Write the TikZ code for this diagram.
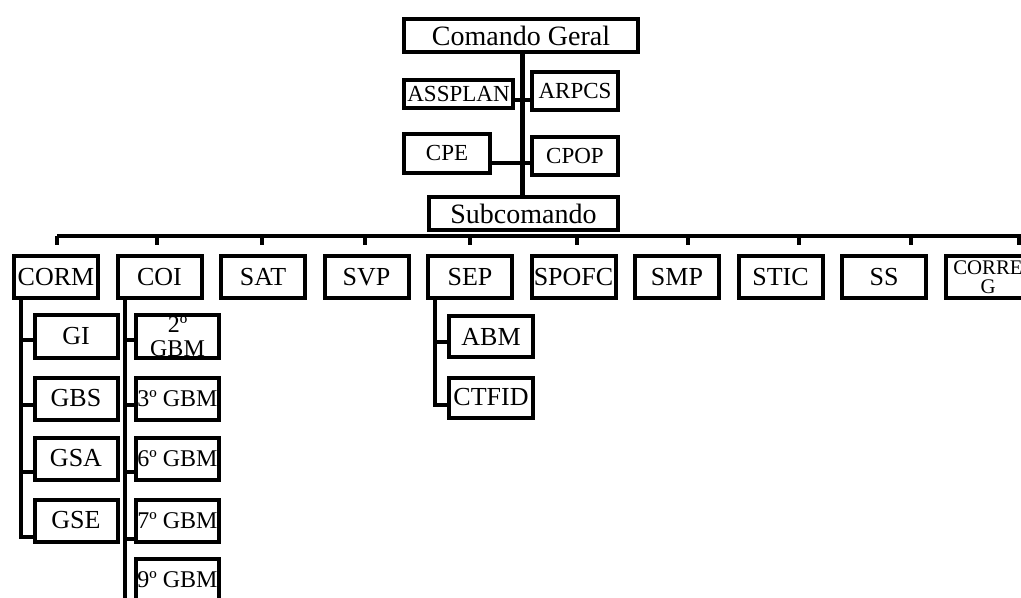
\documentclass[tikz,border=0pt]{standalone}
\usepackage{fontspec}
\setmainfont{Liberation Serif}
\usepackage{tikz}
\tikzset{
	box/.style={draw, line width=2pt, fill=white, inner sep=0pt, align=center, font=\fontsize{13}{13}\selectfont},
	unit/.style={box, minimum width=42pt, minimum height=21pt},
	sub/.style={box, minimum width=41.5pt, minimum height=21pt},
	wire/.style={line width=2pt},
}

\begin{document}
\begin{tikzpicture}[x=0.5pt, y=-0.5pt]
			%%%%% START %%%%%
			\useasboundingbox (0, 0) rectangle (1021, 598);
			
			\node[box, minimum width=117pt, minimum height=16.5pt, font=\fontsize{14}{14}\selectfont] (cg) at (521, 35.5) {Comando Geral};
			\node[box, minimum width=54.5pt, minimum height=14pt, font=\fontsize{11.5}{11.5}\selectfont] (assplan) at (458.5, 94) {ASSPLAN};
			\node[box, minimum width=43pt, minimum height=19pt, font=\fontsize{11.5}{11.5}\selectfont] (arpcs) at (575, 91) {ARPCS};
			\node[box, minimum width=43pt, minimum height=19.5pt, font=\fontsize{11.5}{11.5}\selectfont] (cpe) at (447, 153.5) {CPE};
			\node[box, minimum width=43pt, minimum height=19pt, font=\fontsize{11.5}{11.5}\selectfont] (cpop) at (575, 156) {CPOP};
			\node[box, minimum width=94.5pt, minimum height=16.5pt, font=\fontsize{14}{14}\selectfont] (subcmd) at (523.5, 213.5) {Subcomando};
			
			\coordinate (trunk) at (522.5, 0);
			\draw[line width=2.5pt] (cg.south -| trunk) -- (subcmd.north -| trunk);
			\draw[wire] ([yshift=-3pt]assplan.east) -- ([yshift=-3pt]assplan.east -| arpcs.west);
			\draw[wire] ([yshift=-4.75pt]cpe.east) -- ([yshift=-4.75pt]cpe.east -| cpop.west);
			
			\node[unit] (corm) at (56, 277.5) {CORM};
			\node[unit] (coi) at (159.5, 277.5) {COI};
			\node[unit] (sat) at (263, 277.5) {SAT};
			\node[unit] (svp) at (366.5, 277.5) {SVP};
			\node[unit] (sep) at (470, 277.5) {SEP};
			\node[unit] (spofc) at (573.5, 277.5) {SPOFC};
			\node[unit] (smp) at (677, 277.5) {SMP};
			\node[unit] (stic) at (780.5, 277.5) {STIC};
			\node[unit] (ss) at (884, 277.5) {SS};
			\node[unit, font=\fontsize{10.4}{9.5}\selectfont] (correg) at (988, 277.5) {CORRE\\G};
			
			\coordinate (barL) at (57, 236);
			\coordinate (barR) at (1030, 236);
			\draw[wire] (barL) -- (barR);
			\draw[wire] (barL) -- ++(0, 9);
			\draw[wire] (157, 236) -- ++(0, 9);
			\draw[wire] (262, 236) -- ++(0, 9);
			\draw[wire] (365, 236) -- ++(0, 9);
			\draw[wire] (470, 236) -- ++(0, 9);
			\draw[wire] (577, 236) -- ++(0, 9);
			\draw[wire] (688, 236) -- ++(0, 9);
			\draw[wire] (799, 236) -- ++(0, 9);
			\draw[wire] (911, 236) -- ++(0, 9);
			\draw[wire] (1019, 236) -- ++(0, 9);
			
			% CORM
			\node[sub] (gi) at (76, 336.5) {GI};
			\node[sub] (gbs) at (76, 398.5) {GBS};
			\node[sub] (gsa) at (76, 458.5) {GSA};
			\node[sub] (gse) at (76, 520.5) {GSE};
			\coordinate (cormx) at (20.5, 0);
			\draw[wire] (corm.south -| cormx) |- ([yshift=-8.25pt]gse.west);
			\draw[wire] (corm.south -| cormx) |- ([yshift=-1.75pt]gi.west);
			\draw[wire] (corm.south -| cormx) |- ([yshift=-3.25pt]gbs.west);
			\draw[wire] (corm.south -| cormx) |- ([yshift=-6.75pt]gsa.west);
			
			% COI
			\node[sub, font=\fontsize{12}{12}\selectfont] (gbm2) at (177.5, 336.5) {2º\\GBM};
			\node[sub, font=\fontsize{12}{12}\selectfont] (gbm3) at (177.5, 398.5) {3º GBM};
			\node[sub, font=\fontsize{12}{12}\selectfont] (gbm6) at (177.5, 458.5) {6º GBM};
			\node[sub, font=\fontsize{12}{12}\selectfont] (gbm7) at (177.5, 520.5) {7º GBM};
			\node[sub, font=\fontsize{12}{12}\selectfont] (gbm9) at (177.5, 580) {9º GBM};
			\coordinate (coix) at (124.5, 610);
			\draw[wire] (coi.south -| coix) -- (coix);
			\draw[wire] (coi.south -| coix) |- ([yshift=-1.75pt]gbm2.west);
			\draw[wire] (coi.south -| coix) |- ([yshift=-3.25pt]gbm3.west);
			\draw[wire] (coi.south -| coix) |- ([yshift=-6.75pt]gbm6.west);
			\draw[wire] (coi.south -| coix) |- ([yshift=-9.25pt]gbm7.west);
			
			% SEP
			\node[box, minimum width=42pt, minimum height=20pt] (abm) at (491, 336.5) {ABM};
			\node[box, minimum width=42pt, minimum height=20pt] (ctfid) at (491, 397.5) {CTFID};
			\coordinate (sepx) at (434.5, 0);
			\draw[wire] (sep.south -| sepx) |- ([yshift=-3.75pt]ctfid.west);
			\draw[wire] (sep.south -| sepx) |- ([yshift=-2.75pt]abm.west);
			
			%%%%% END %%%%%
\end{tikzpicture}
\end{document}
